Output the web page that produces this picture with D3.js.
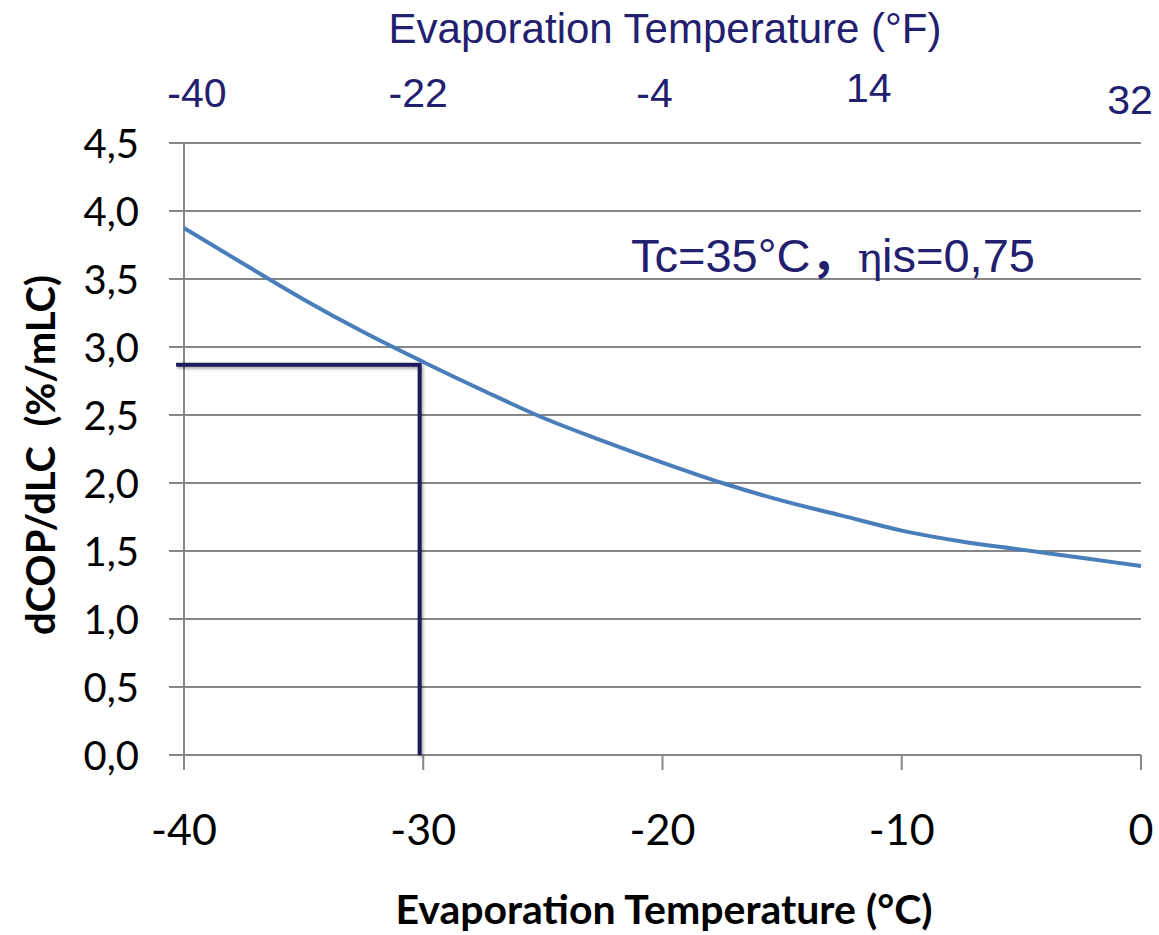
<!DOCTYPE html>
<html>
<head>
<meta charset="utf-8">
<script src="https://cdn.jsdelivr.net/npm/d3@7"></script>
<style>
  html, body { margin: 0; padding: 0; background: #ffffff; }
  svg { display: block; }
</style>
</head>
<body>
<svg id="chart" width="1159" height="935"></svg>
<script>
// ---- data ----
const evapTempC = [-40, -37.5, -35, -32.5, -30, -27.5, -25, -22.5, -20, -17.5, -15, -12.5, -10, -7.5, -5, -2.5, 0];
const dCOPdLC   = [3.875, 3.61, 3.35, 3.11, 2.89, 2.68, 2.48, 2.31, 2.15, 2.00, 1.87, 1.76, 1.65, 1.57, 1.51, 1.45, 1.39];
const xTicksC = [-40, -30, -20, -10, 0];
const yTicks = [0, 0.5, 1, 1.5, 2, 2.5, 3, 3.5, 4, 4.5];
const topTicksF = [-40, -22, -4, 14, 32];
const markerC = -30.15;   // reading guide: x value
const markerY = 2.87;     // reading guide: y value
const guideStartC = -40.33;

// ---- layout (not data) ----
const topLabelDx = [13, -5, -8, -33, -11];
const topLabelDy = [0, 0, 0, -5, 7];

const svg = d3.select("#chart");
const x = d3.scaleLinear().domain([-40, 0]).range([184, 1141]);
const y = d3.scaleLinear().domain([0, 4.5]).range([755, 143]);
const xF = d3.scaleLinear().domain([-40, 32]).range([184, 1141]);

const fmt = v => d3.format(".1f")(v).replace(".", ",");
const gridColor = "#878787";
const navy = "#22206e";

// gridlines (with left tick extension)
svg.append("g").selectAll("line").data(yTicks.filter(d => d > 0)).join("line")
  .attr("x1", 169).attr("x2", x(0))
  .attr("y1", d => y(d)).attr("y2", d => y(d))
  .attr("stroke", gridColor).attr("stroke-width", 2);

// y axis line
svg.append("line").attr("x1", x(-40)).attr("x2", x(-40))
  .attr("y1", y(4.5)).attr("y2", y(0))
  .attr("stroke", gridColor).attr("stroke-width", 2);
// x axis line
svg.append("line").attr("x1", 169).attr("x2", x(0))
  .attr("y1", y(0)).attr("y2", y(0))
  .attr("stroke", gridColor).attr("stroke-width", 2);
// x ticks
svg.append("g").selectAll("line").data(xTicksC).join("line")
  .attr("x1", d => x(d)).attr("x2", d => x(d))
  .attr("y1", y(0)).attr("y2", y(0) + 15)
  .attr("stroke", gridColor).attr("stroke-width", 2);

// y tick labels
svg.append("g").selectAll("text").data(yTicks).join("text")
  .attr("x", 139).attr("y", d => y(d))
  .attr("text-anchor", "end").attr("dominant-baseline", "central")
  .attr("font-family", "Lato, 'Open Sans', sans-serif").attr("font-size", 40)
  .attr("fill", "#000").text(fmt);

// x tick labels
svg.append("g").selectAll("text").data(xTicksC).join("text")
  .attr("x", d => x(d)).attr("y", 828)
  .attr("text-anchor", "middle").attr("dominant-baseline", "central")
  .attr("font-family", "Lato, 'Open Sans', sans-serif").attr("font-size", 43)
  .attr("fill", "#000").text(d => d);

// top F labels
svg.append("g").selectAll("text").data(topTicksF).join("text")
  .attr("x", (d, i) => xF(d) + topLabelDx[i]).attr("y", (d, i) => 93 + topLabelDy[i])
  .attr("text-anchor", "middle").attr("dominant-baseline", "central")
  .attr("font-family", "'Liberation Sans', Arial, sans-serif").attr("font-size", 41)
  .attr("fill", navy).text(d => d);

// top title
svg.append("text").attr("x", 665).attr("y", 28)
  .attr("text-anchor", "middle").attr("dominant-baseline", "central")
  .attr("font-family", "'Liberation Sans', Arial, sans-serif").attr("font-size", 42)
  .attr("fill", navy).text("Evaporation Temperature (°F)");

// x title
svg.append("text").attr("x", 664).attr("y", 908)
  .attr("text-anchor", "middle").attr("dominant-baseline", "central")
  .attr("font-family", "Lato, 'Open Sans', sans-serif").attr("font-weight", "bold").attr("font-size", 41)
  .attr("fill", "#000").text("Evaporation Temperature (°C)");

// y title
svg.append("text").attr("transform", "translate(40,455) rotate(-90)")
  .attr("text-anchor", "middle").attr("dominant-baseline", "central")
  .attr("font-family", "Lato, 'Open Sans', sans-serif").attr("font-weight", "bold").attr("font-size", 40)
  .attr("fill", "#000").attr("xml:space", "preserve").style("white-space", "pre")
  .text("dCOP/dLC  (%/mLC)");

// reading guide lines (with soft shadow)
const defs = svg.append("defs");
const f = defs.append("filter").attr("id", "sh").attr("x", "-20%").attr("y", "-20%").attr("width", "140%").attr("height", "140%");
f.append("feDropShadow").attr("dx", 1.5).attr("dy", 2).attr("stdDeviation", 1.5).attr("flood-color", "#000").attr("flood-opacity", 0.35);
const guide = d3.line().x(d => x(d[0])).y(d => y(d[1]));
svg.append("path")
  .attr("d", guide([[guideStartC, markerY], [markerC, markerY], [markerC, 0]]))
  .attr("fill", "none").attr("stroke", "#1b1a5c").attr("stroke-width", 4)
  .attr("stroke-linejoin", "miter").attr("filter", "url(#sh)");

// curve
const line = d3.line().x((d, i) => x(evapTempC[i])).y(d => y(d)).curve(d3.curveMonotoneX);
svg.append("path").attr("d", line(dCOPdLC))
  .attr("fill", "none").attr("stroke", "#4a7ebb").attr("stroke-width", 4);

// annotation
const ann = svg.append("text").attr("x", 631).attr("y", 272)
  .attr("font-family", "'Liberation Sans', Arial, sans-serif").attr("font-size", 47)
  .attr("fill", navy);
ann.append("tspan").text("Tc=35°C");
ann.append("tspan").attr("font-family", "'Noto Sans CJK SC', sans-serif").attr("font-weight", "bold").text("，");
ann.append("tspan").attr("font-family", "'DejaVu Serif', serif").attr("font-size", 41).text("η");
ann.append("tspan").text("is=0,75");
</script>
</body>
</html>
